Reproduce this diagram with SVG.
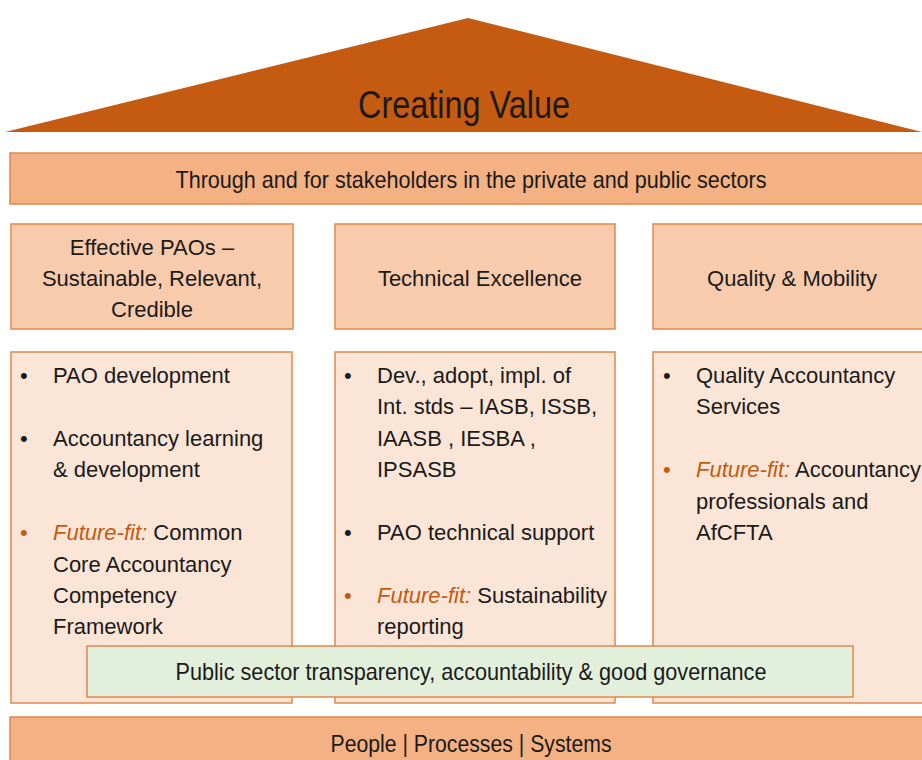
<svg xmlns="http://www.w3.org/2000/svg" width="922" height="760" viewBox="0 0 922 760">
<style>
text{font-family:"Liberation Sans",Arial,sans-serif;fill:#1a1a1a;font-size:22px}
.c{text-anchor:middle}
.t38{font-size:38px}
.t24{font-size:24px}
.t23{font-size:23px}
.bar{fill:#f4b183;stroke:#e0884d;stroke-width:1.5}
.hdr{fill:#f8cbad;stroke:#e0884d;stroke-width:1.5}
.box{fill:#fbe5d6;stroke:#e0884d;stroke-width:1.5}
.grn{fill:#e2efda;stroke:#e0884d;stroke-width:1.5}
.ff{fill:#c55a11;font-style:italic}
.ob{fill:#c55a11}
</style>
<rect width="922" height="760" fill="#fff"/>
<g id="roof">
<polygon points="5,132 468,18 922,132" fill="#c55a11"/>
<text class="c t38" x="464" y="118" textLength="212" lengthAdjust="spacingAndGlyphs">Creating Value</text>
</g>
<g id="stakeholders">
<rect class="bar" x="10" y="153" width="916" height="51"/>
<text class="c t24" x="471" y="188" textLength="591" lengthAdjust="spacingAndGlyphs">Through and for stakeholders in the private and public sectors</text>
</g>
<g id="hdr1">
<rect class="hdr" x="11" y="224" width="282" height="105"/>
<text class="c" x="152" y="255">Effective PAOs –</text>
<text class="c" x="152" y="286">Sustainable, Relevant,</text>
<text class="c" x="152" y="317">Credible</text>
</g>
<g id="hdr2">
<rect class="hdr" x="335" y="224" width="280" height="105"/>
<text class="c" x="480" y="286">Technical Excellence</text>
</g>
<g id="hdr3">
<rect class="hdr" x="653" y="224" width="273" height="105"/>
<text class="c" x="792" y="286">Quality &amp; Mobility</text>
</g>
<g id="col1">
<rect class="box" x="11" y="352" width="281" height="351"/>
<text x="20" y="383">•</text><text x="53" y="383">PAO development</text>
<text x="20" y="446">•</text><text x="53" y="446">Accountancy learning</text>
<text x="53" y="477">&amp; development</text>
<text x="20" y="540" class="ob">•</text><text x="53" y="540"><tspan class="ff">Future-fit:</tspan> Common</text>
<text x="53" y="572">Core Accountancy</text>
<text x="53" y="603">Competency</text>
<text x="53" y="634">Framework</text>
</g>
<g id="col2">
<rect class="box" x="335" y="352" width="280" height="351"/>
<text x="344" y="383">•</text><text x="377" y="383">Dev., adopt, impl. of</text>
<text x="377" y="414">Int. stds – IASB, ISSB,</text>
<text x="377" y="446">IAASB , IESBA ,</text>
<text x="377" y="477">IPSASB</text>
<text x="344" y="540">•</text><text x="377" y="540">PAO technical support</text>
<text x="344" y="603" class="ob">•</text><text x="377" y="603"><tspan class="ff">Future-fit:</tspan> Sustainability</text>
<text x="377" y="634">reporting</text>
</g>
<g id="col3">
<rect class="box" x="653" y="352" width="273" height="351"/>
<text x="663" y="383">•</text><text x="696" y="383">Quality Accountancy</text>
<text x="696" y="414">Services</text>
<text x="663" y="477" class="ob">•</text><text x="696" y="477"><tspan class="ff">Future-fit:</tspan> Accountancy</text>
<text x="696" y="509">professionals and</text>
<text x="696" y="540">AfCFTA</text>
</g>
<g id="public">
<rect class="grn" x="87" y="646" width="766" height="51"/>
<text class="c t24" x="471" y="680" textLength="591" lengthAdjust="spacingAndGlyphs">Public sector transparency, accountability &amp; good governance</text>
</g>
<g id="base">
<rect class="bar" x="10" y="717" width="916" height="50"/>
<text class="c t23" x="471" y="752" textLength="281" lengthAdjust="spacingAndGlyphs">People | Processes | Systems</text>
</g>
<g id="connectors"></g>
</svg>
